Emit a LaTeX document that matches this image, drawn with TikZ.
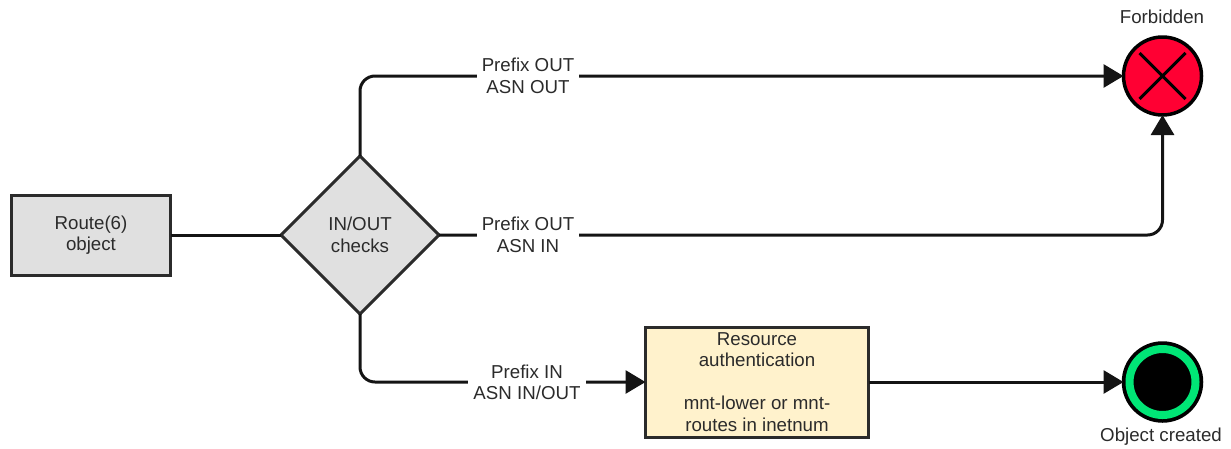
\documentclass[tikz,border=0pt]{standalone}
\usepackage{fontspec}
\setmainfont{Liberation Sans}
\usetikzlibrary{shapes.geometric,arrows.meta}
\definecolor{boxgray}{HTML}{E0E0E0}
\definecolor{boxcream}{HTML}{FFF2CC}
\definecolor{stoprd}{HTML}{FF0033}
\definecolor{okgreen}{HTML}{00E676}
\definecolor{ink}{HTML}{2B2B2B}
\definecolor{wire}{HTML}{141414}
\tikzset{
  every node/.style={font=\fontsize{18.7}{21.5}\selectfont,text=ink,align=center,inner sep=0pt,outer sep=0pt},
  procbox/.style={rectangle,draw=ink,line width=3pt},
  choice/.style={diamond,aspect=1,draw=ink,line width=3pt,fill=boxgray,minimum width=158pt,minimum height=158pt},
  endcircle/.style={circle,draw=black,line width=3.5pt,minimum size=78pt},
  conn/.style={draw=wire,line width=3pt,rounded corners=15pt},
  arrowconn/.style={conn,-{Triangle[length=20pt,width=23pt]}},
  routelabel/.style={fill=white,inner xsep=5pt,inner ysep=3pt},
  caption/.style={}
}
\begin{document}
\begin{tikzpicture}[x=1pt,y=-1pt]
\useasboundingbox (0,0) rectangle (1231,448);
\node[procbox,fill=boxgray,minimum width=159pt,minimum height=80pt] (obj) at (91,235) {Route(6)\\object};
\node[choice] (chk) at (360,235) {IN/OUT\\checks};
\node[procbox,fill=boxcream,minimum width=223pt,minimum height=110pt] (auth) at (757,382) {Resource\\authentication\\[21.5pt]mnt-lower or mnt-\\routes in inetnum};
\node[endcircle,fill=stoprd] (stop) at (1162.5,76) {};
\node[endcircle,fill=black] (done) at (1162.5,382) {};
\draw[okgreen,line width=8pt] (done.center) circle (33pt);
\coordinate (xa) at (1139.5,53);
\coordinate (xb) at (1185.5,99);
\coordinate (xc) at (1185.5,53);
\coordinate (xd) at (1139.5,99);
\draw[black,line width=3pt] (xa) -- (xb) (xc) -- (xd);
\draw[conn] (obj.east) -- (chk.west);
\draw[arrowconn] (chk.north) |- (stop.west);
\draw[arrowconn] (chk.east) -| (stop.south);
\draw[arrowconn] (chk.south) |- (auth.west);
\draw[arrowconn] (auth.east) -- (done.west);
\node[routelabel] (l1) at (528,76) {Prefix OUT\\ASN OUT};
\node[routelabel] (l2) at (528,235) {Prefix OUT\\ASN IN};
\node[routelabel] (l3) at (527,382.5) {Prefix IN\\ASN IN/OUT};
\node[caption] (c1) at (1162,17) {Forbidden};
\node[caption] (c2) at (1161,437) {Object created};
\end{tikzpicture}
\end{document}
